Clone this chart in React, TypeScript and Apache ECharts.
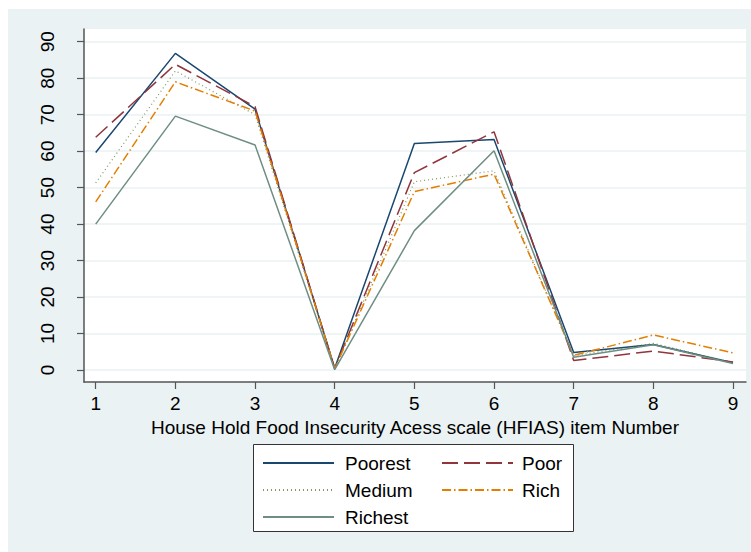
import React, { useEffect, useRef } from "react";
import * as echarts from "echarts";

const items = [1, 2, 3, 4, 5, 6, 7, 8, 9];
const yTicks = [0, 10, 20, 30, 40, 50, 60, 70, 80, 90];
const poorest = [59.6, 86.8, 71.5, 0.5, 62.1, 63.2, 4.8, 7.0, 2.0];
const poor = [63.8, 83.8, 72.2, 0.4, 54.1, 65.3, 2.6, 5.2, 2.2];
const medium = [51.3, 82.0, 70.0, 0.3, 51.6, 54.6, 3.9, 7.3, 2.0];
const rich = [46.1, 79.0, 71.0, 0.4, 48.9, 53.7, 4.0, 9.6, 4.7];
const richest = [40.0, 69.6, 61.7, 0.1, 38.2, 60.1, 3.5, 6.9, 1.8];

const FONT = "'Liberation Sans', Arial, Helvetica, sans-serif";
const AXIS_COLOR = "#555555";
const FS = 19;

export default function App() {
  const ref = useRef<HTMLDivElement>(null);
  useEffect(() => {
    if (!ref.current) return;
    const chart = echarts.init(ref.current, undefined, { renderer: "svg" });
    const pairs = (arr: number[]) => items.map((x, i) => [x, arr[i]]);
    const mk = (name: string, arr: number[], color: string, type: any, width = 1.5, opacity = 1) => ({
      name,
      type: "line",
      data: pairs(arr),
      symbol: "none",
      showSymbol: false,
      lineStyle: { color, width, type, opacity },
      itemStyle: { color },
      z: 3,
    });
    const legendCommon = {
      orient: "vertical",
      top: 453,
      padding: 0,
      itemWidth: 71,
      itemHeight: 20,
      itemGap: 7,
      itemStyle: { opacity: 0 },
    };
    chart.setOption({
      animation: false,
      backgroundColor: "transparent",
      textStyle: { fontFamily: FONT },
      grid: {
        left: 84,
        top: 29,
        right: 5,
        bottom: 170,
        show: true,
        backgroundColor: "#ffffff",
        borderWidth: 0,
      },
      xAxis: {
        type: "value",
        min: 0.853,
        max: 9.163,
        name: "House Hold Food Insecurity Acess scale (HFIAS) item Number",
        nameLocation: "middle",
        nameGap: 30,
        nameTextStyle: { fontSize: FS, color: "#000", fontFamily: FONT },
        axisLine: { show: true, onZero: false, lineStyle: { color: AXIS_COLOR, width: 1.5 } },
        axisTick: { show: true, length: 7, customValues: items, lineStyle: { color: AXIS_COLOR, width: 1.2 } },
        axisLabel: { customValues: items, fontSize: FS, color: "#000", margin: 12, fontFamily: FONT },
        splitLine: { show: false },
      },
      yAxis: {
        type: "value",
        min: -3.29,
        max: 93.48,
        axisLine: { show: true, onZero: false, lineStyle: { color: AXIS_COLOR, width: 1.5 } },
        axisTick: { show: true, length: 7, customValues: yTicks, lineStyle: { color: AXIS_COLOR, width: 1.2 } },
        axisLabel: { customValues: yTicks, rotate: 90, fontSize: FS, color: "#000", margin: 27, fontFamily: FONT },
        splitLine: { show: true, customValues: yTicks, lineStyle: { color: "#EAF2F3", width: 1.5 } },
      },
      legend: [
        {
          ...legendCommon,
          data: ["Poorest", "Medium", "Richest"],
          left: 262,
          textStyle: { fontSize: FS, color: "#000", fontFamily: FONT, lineHeight: 20, padding: [0, 0, 0, 6] },
        },
        {
          ...legendCommon,
          data: ["Poor", "Rich"],
          left: 441,
          textStyle: { fontSize: FS, color: "#000", fontFamily: FONT, lineHeight: 20, padding: [0, 0, 0, 4] },
        },
      ],
      graphic: [
        {
          type: "rect",
          shape: { x: 253.5, y: 444.5, width: 320, height: 87 },
          style: { fill: "#ffffff", stroke: "#333333", lineWidth: 1 },
          z: 0,
        },
      ],
      series: [
        mk("Poorest", poorest, "#1a476f", "solid"),
        mk("Poor", poor, "#90353b", [16, 6]),
        mk("Medium", medium, "#55752f", [1, 3], 1.2, 0.75),
        mk("Rich", rich, "#e37e00", [9, 3, 1.5, 3]),
        mk("Richest", richest, "#6e8e84", "solid"),
      ],
    });
    return () => chart.dispose();
  }, []);
  return (
    <div style={{ position: "absolute", left: 0, top: 0, width: 751, height: 552, background: "#ffffff" }}>
      <div style={{ position: "absolute", left: 8, top: 9, right: 0, bottom: 0, background: "#EAF2F3" }} />
      <div ref={ref} style={{ position: "absolute", left: 0, top: 0, width: 751, height: 552 }} />
    </div>
  );
}
